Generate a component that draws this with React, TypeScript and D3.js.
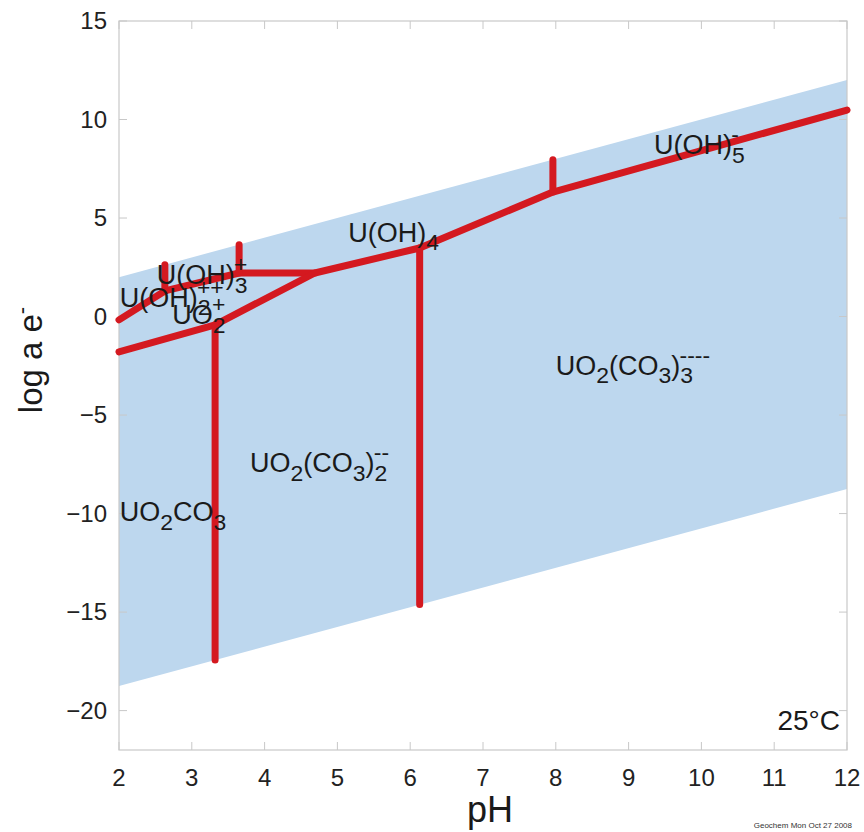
import React from "react";
import * as d3 from "d3";

const W = 864, H = 832;
const xDomain = [2, 12];
const yDomain = [-22, 15];
const xTicks = [2, 3, 4, 5, 6, 7, 8, 9, 10, 11, 12];
const yTicks = [-20, -15, -10, -5, 0, 5, 10, 15];

// water stability band: log a e- = pH (top), pH - 20.75 (bottom)
const bandPH = [2, 12];
const bandTop = [2, 12];
const bandBottom = [-18.75, -8.75];

// boundary lines [pH, log a e-]
const boundaries: [number, number][][] = [
  [[2, -0.17], [2.63, 1.3], [3.65, 2.21], [4.69, 2.21]],
  [[2, -1.79], [3.32, -0.42], [4.69, 2.21], [6.13, 3.48], [7.96, 6.32], [12, 10.48]],
  [[3.32, -0.42], [3.32, -17.43]],
  [[6.13, 3.48], [6.13, -14.62]],
  [[2.63, 1.3], [2.63, 2.63]],
  [[3.65, 2.21], [3.65, 3.65]],
  [[7.96, 6.32], [7.96, 7.96]],
];

type Part = { t: string; s?: "sub" | "sup" };
const labels: { x: number; y: number; parts: Part[] }[] = [
  { x: 9.35, y: 8.25, parts: [{ t: "U(OH)" }, { t: "5", s: "sub" }, { t: "-", s: "sup" }] },
  { x: 5.15, y: 3.8, parts: [{ t: "U(OH)" }, { t: "4", s: "sub" }] },
  { x: 2.52, y: 1.65, parts: [{ t: "U(OH)" }, { t: "3", s: "sub" }, { t: "+", s: "sup" }] },
  { x: 2.01, y: 0.5, parts: [{ t: "U(OH)" }, { t: "2", s: "sub" }, { t: "++", s: "sup" }] },
  { x: 2.73, y: -0.4, parts: [{ t: "UO" }, { t: "2", s: "sub" }, { t: "+", s: "sup" }] },
  { x: 8.0, y: -2.95, parts: [{ t: "UO" }, { t: "2", s: "sub" }, { t: "(CO" }, { t: "3", s: "sub" }, { t: ")" }, { t: "3", s: "sub" }, { t: "----", s: "sup" }] },
  { x: 3.8, y: -7.9, parts: [{ t: "UO" }, { t: "2", s: "sub" }, { t: "(CO" }, { t: "3", s: "sub" }, { t: ")" }, { t: "2", s: "sub" }, { t: "--", s: "sup" }] },
  { x: 2.01, y: -10.4, parts: [{ t: "UO" }, { t: "2", s: "sub" }, { t: "CO" }, { t: "3", s: "sub" }] },
];

const FONT = "'Liberation Sans', Arial, sans-serif";

function Formula({ parts, size }: { parts: Part[]; size: number }) {
  const out: React.ReactNode[] = [];
  let prev: "sub" | "sup" | undefined;
  const off = (s?: string) => (s === "sub" ? size * 0.32 : s === "sup" ? -size * 0.45 : 0);
  parts.forEach((p, i) => {
    const cur = p.s;
    const dy = off(cur) - off(prev);
    let dx = 0;
    if (cur === "sup" && prev === "sub") dx = -size * 0.5;
    out.push(
      <tspan key={i} dy={dy} dx={dx} fontSize={cur ? size * 0.85 : size}>
        {p.t}
      </tspan>
    );
    prev = cur;
  });
  return <>{out}</>;
}

export default function App() {
  const x = d3.scaleLinear().domain(xDomain).range([119, 847]);
  const y = d3.scaleLinear().domain(yDomain).range([750, 21]);
  const line = d3.line<[number, number]>().x((d) => x(d[0])).y((d) => y(d[1]));
  const area = d3
    .area<number>()
    .x((d) => x(d))
    .y0((_, i) => y(bandBottom[i]))
    .y1((_, i) => y(bandTop[i]));
  const grey = "#c8c8c8";
  return (
    <svg width={W} height={H} style={{ display: "block", position: "absolute", left: 0, top: 0 }} fontFamily={FONT}>
      <rect width={W} height={H} fill="#fff" />
      <path d={area(bandPH) || ""} fill="#bdd7ee" />
      <rect x={119} y={21} width={728} height={729} fill="none" stroke={grey} strokeWidth={1.2} />
      {xTicks.map((t) => (
        <g key={"x" + t}>
          <line x1={x(t)} x2={x(t)} y1={750} y2={742} stroke={grey} />
          <line x1={x(t)} x2={x(t)} y1={21} y2={29} stroke={grey} />
          <text x={x(t)} y={786} fontSize={24} textAnchor="middle" fill="#222">
            {t}
          </text>
        </g>
      ))}
      {yTicks.map((t) => (
        <g key={"y" + t}>
          <line x1={119} x2={127} y1={y(t)} y2={y(t)} stroke={grey} />
          <line x1={847} x2={839} y1={y(t)} y2={y(t)} stroke={grey} />
          <text x={107} y={y(t) + 8} fontSize={24} textAnchor="end" fill="#222">
            {t < 0 ? "\u2212" + Math.abs(t) : t}
          </text>
        </g>
      ))}
      {boundaries.map((b, i) => (
        <path key={i} d={line(b) || ""} fill="none" stroke="#d41920" strokeWidth={7} strokeLinecap="round" strokeLinejoin="round" />
      ))}
      {labels.map((l, i) => (
        <text key={i} x={x(l.x)} y={y(l.y)} fontSize={27} fill="#1a1a1a">
          <Formula parts={l.parts} size={27} />
        </text>
      ))}
      <text x={840} y={730} fontSize={28} textAnchor="end" fill="#1a1a1a">
        25°C
      </text>
      <text x={490} y={822} fontSize={36} textAnchor="middle" fill="#1a1a1a">
        pH
      </text>
      <text transform="translate(42,360) rotate(-90)" fontSize={33} textAnchor="middle" fill="#1a1a1a">
        log a e<tspan dy={-13} fontSize={22}>-</tspan>
      </text>
      <text x={852} y={828} fontSize={8} textAnchor="end" fill="#333">
        Geochem Mon Oct 27 2008
      </text>
    </svg>
  );
}
